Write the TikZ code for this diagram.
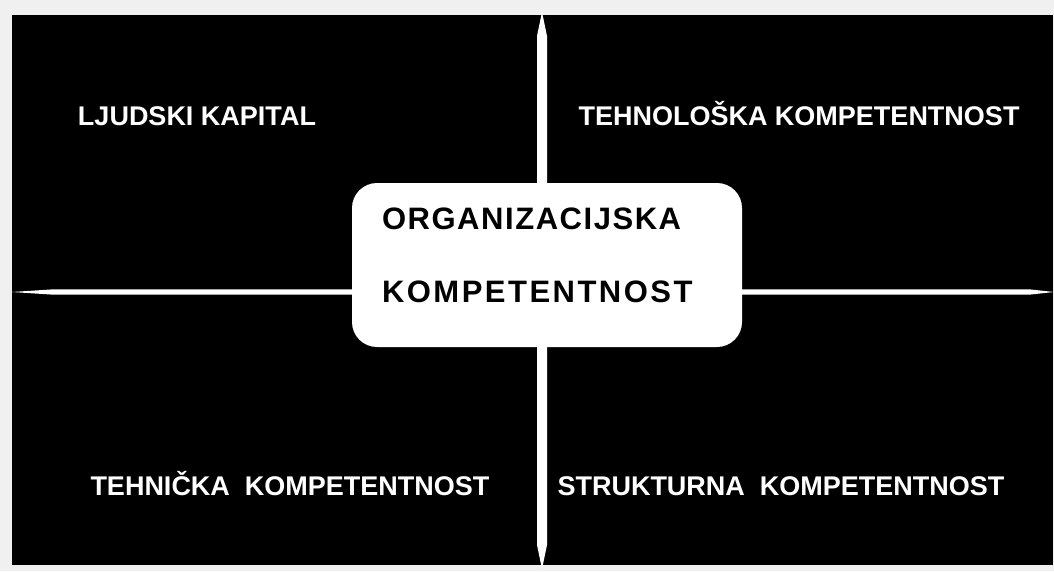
\documentclass[tikz,border=0pt]{standalone}
\usepackage{fontspec}
\setmainfont{Liberation Sans}
\usetikzlibrary{calc}
\usetikzlibrary{positioning}
\definecolor{pagegray}{HTML}{F0F0F0}

\begin{document}
\begin{tikzpicture}[x=1pt,y=-1pt,
  quad/.style={white, inner sep=0, font=\bfseries\fontsize{27}{32}\selectfont},
  orgbox/.style={fill=white, rounded corners=25pt, minimum width=390pt, minimum height=164pt, inner sep=0},
  orgtext/.style={black, inner sep=0, anchor=base west, font=\bfseries\fontsize{31}{36}\selectfont}]
\useasboundingbox (0,0) rectangle (1054,571);
\fill[pagegray] (0,0) rectangle (1054,571);
\fill[black] (12,15) rectangle (1053,565);
% axes, pointed at both ends
\coordinate (hleft) at (12,292);
\coordinate (hright) at (1054,292);
\coordinate (vtop) at (542,12);
\coordinate (vbot) at (542,569);
\fill[white] (hleft) -- ($(hleft)+(40,-2.6)$) -- ($(hright)+(-24,-2.6)$) -- (hright)
  -- ($(hright)+(-24,2.6)$) -- ($(hleft)+(40,2.6)$) -- cycle;
\fill[white] (vtop) -- ($(vtop)+(5,24)$) -- ($(vbot)+(5,-24)$) -- (vbot)
  -- ($(vbot)+(-5,-24)$) -- ($(vtop)+(-5,24)$) -- cycle;
% quadrants
\foreach \nm/\x/\y/\t in {ljudski/197/125/{LJUDSKI KAPITAL},
                         tehnoloska/799/125/{TEHNOLOŠKA KOMPETENTNOST},
                         tehnicka/290/495/{TEHNIČKA\ \ KOMPETENTNOST},
                         strukturna/781/495/{STRUKTURNA\ \ KOMPETENTNOST}}
  \node[quad, anchor=base] (\nm) at (\x,\y) {\t};
% centre
\node[orgbox] (org) at (547,265) {};
\node[orgtext] (org1) at ($(org.north west)+(30,47)$) {\addfontfeature{LetterSpace=5}ORGANIZACIJSKA};
\node[orgtext] (org2) at ($(org1.base west)+(0,73)$) {\addfontfeature{LetterSpace=8}KOMPETENTNOST};
\end{tikzpicture}
\end{document}
